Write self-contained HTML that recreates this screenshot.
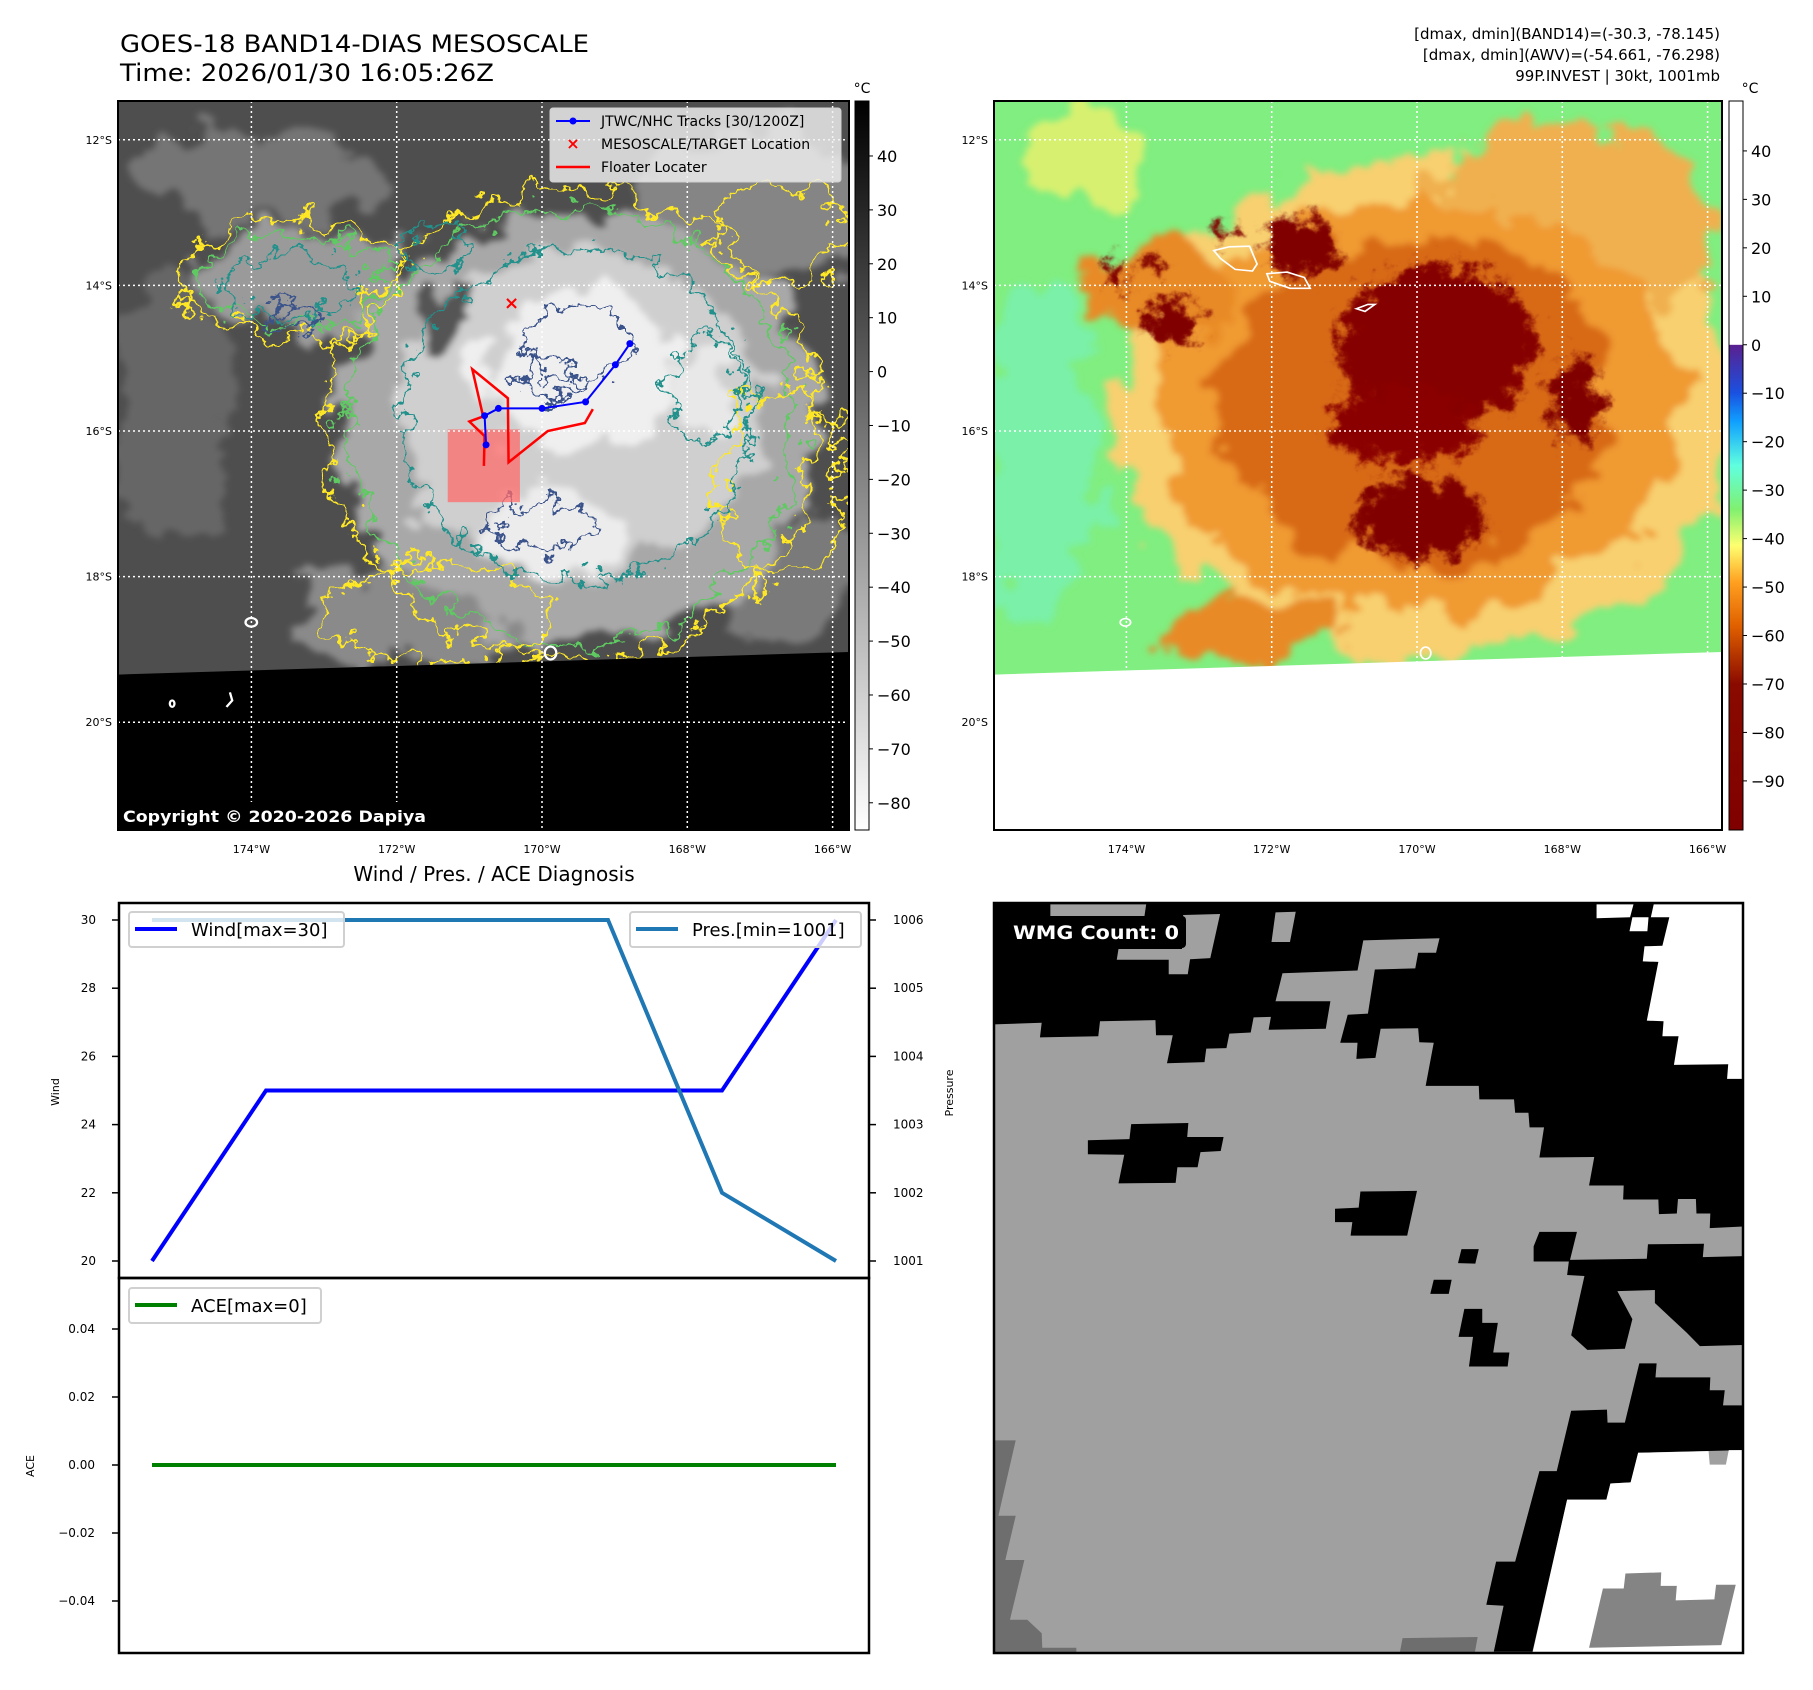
<!DOCTYPE html>
<html><head><meta charset="utf-8">
<style>
html,body{margin:0;padding:0;background:#fff;}
svg{display:block;font-family:"DejaVu Sans","Liberation Sans",sans-serif;}
</style></head>
<body>
<svg id="fig" width="1813" height="1690" viewBox="0 0 1813 1690" xmlns="http://www.w3.org/2000/svg">
<defs>
  <filter id="blur2" x="-20%" y="-20%" width="140%" height="140%"><feGaussianBlur stdDeviation="8"/></filter>
  <filter id="rough" x="-20%" y="-20%" width="140%" height="140%">
    <feTurbulence type="fractalNoise" baseFrequency="0.012" numOctaves="4" seed="7" result="n"/>
    <feDisplacementMap in="SourceGraphic" in2="n" scale="140" xChannelSelector="R" yChannelSelector="G" result="d"/>
    <feGaussianBlur in="d" stdDeviation="6"/>
  </filter>
  <filter id="jag" x="-10%" y="-10%" width="120%" height="120%">
    <feTurbulence type="fractalNoise" baseFrequency="0.02" numOctaves="4" seed="4" result="n"/>
    <feDisplacementMap in="SourceGraphic" in2="n" scale="110" xChannelSelector="R" yChannelSelector="G"/>
  </filter>
  <filter id="jag2" x="-10%" y="-10%" width="120%" height="120%">
    <feTurbulence type="fractalNoise" baseFrequency="0.03" numOctaves="4" seed="9" result="n"/>
    <feDisplacementMap in="SourceGraphic" in2="n" scale="80" xChannelSelector="R" yChannelSelector="G"/>
  </filter>
  <clipPath id="clipTL"><rect x="118" y="101" width="731" height="729"/></clipPath>
  <clipPath id="clipTR"><rect x="994" y="101" width="728" height="729"/></clipPath>
  <clipPath id="clipBR"><rect x="994" y="903" width="749" height="750"/></clipPath>
  <linearGradient id="cbGray" x1="0" y1="0" x2="0" y2="1">
    <stop offset="0" stop-color="#000"/><stop offset="1" stop-color="#fff"/>
  </linearGradient>
  <linearGradient id="cbColor" x1="0" y1="0" x2="0" y2="1">
    <stop offset="0" stop-color="#fff"/><stop offset="0.334" stop-color="#fff"/>
    <stop offset="0.335" stop-color="#5a2090"/><stop offset="0.40" stop-color="#1a50e0"/>
    <stop offset="0.44" stop-color="#10a0ff"/><stop offset="0.50" stop-color="#60ffe0"/>
    <stop offset="0.56" stop-color="#80f070"/><stop offset="0.61" stop-color="#ffff70"/>
    <stop offset="0.66" stop-color="#ffa020"/><stop offset="0.72" stop-color="#e06000"/>
    <stop offset="0.80" stop-color="#8a0a00"/><stop offset="1" stop-color="#800000"/>
  </linearGradient>
</defs>

<text x="120" y="52" font-size="24" textLength="469" lengthAdjust="spacingAndGlyphs">GOES-18 BAND14-DIAS MESOSCALE</text>
<text x="120" y="81" font-size="24" textLength="374" lengthAdjust="spacingAndGlyphs">Time: 2026/01/30 16:05:26Z</text>
<g font-size="15" text-anchor="end">
  <text x="1720" y="39">[dmax, dmin](BAND14)=(-30.3, -78.145)</text>
  <text x="1720" y="60">[dmax, dmin](AWV)=(-54.661, -76.298)</text>
  <text x="1720" y="81">99P.INVEST | 30kt, 1001mb</text>
</g>

<!-- TOP LEFT MAP -->
<g clip-path="url(#clipTL)">
  <g transform="scale(0.5777 0.5388)">
    <rect x="205" y="187" width="1265" height="1353" fill="#4e4e4e"/>
    <g filter="url(#rough)">
      <ellipse cx="450" cy="330" rx="220" ry="90" fill="#747474"/>
      <ellipse cx="300" cy="760" rx="100" ry="240" fill="#666"/>
      <ellipse cx="1300" cy="380" rx="200" ry="140" fill="#858585"/>
      <ellipse cx="1360" cy="1080" rx="150" ry="110" fill="#7a7a7a"/>
      <ellipse cx="720" cy="1140" rx="220" ry="100" fill="#8a8a8a"/>
      <ellipse cx="520" cy="520" rx="190" ry="90" fill="#9a9a9a"/>
      <ellipse cx="1000" cy="790" rx="420" ry="400" fill="#a8a8a8"/>
      <ellipse cx="1000" cy="770" rx="320" ry="300" fill="#cfcfcf"/>
      <ellipse cx="1000" cy="690" rx="170" ry="150" fill="#efefef"/>
      <ellipse cx="960" cy="980" rx="140" ry="70" fill="#ececec"/>
      <ellipse cx="1220" cy="720" rx="50" ry="90" fill="#e8e8e8"/>
      <ellipse cx="760" cy="600" rx="40" ry="60" fill="#555"/>
    </g>
    <g fill="none" stroke-width="5">
      <g filter="url(#jag)">
        <ellipse cx="990" cy="790" rx="420" ry="440" stroke="#fde725"/>
        <ellipse cx="990" cy="790" rx="390" ry="405" stroke="#5ec962"/>
        <ellipse cx="500" cy="520" rx="190" ry="110" stroke="#fde725"/>
        <ellipse cx="500" cy="520" rx="160" ry="85" stroke="#5ec962"/>
        <ellipse cx="760" cy="1140" rx="190" ry="90" stroke="#fde725"/>
        <ellipse cx="1350" cy="430" rx="120" ry="90" stroke="#fde725"/>
        <ellipse cx="1350" cy="900" rx="110" ry="180" stroke="#fde725"/>
      </g>
      <g filter="url(#jag2)">
        <ellipse cx="1000" cy="770" rx="300" ry="310" stroke="#21918c"/>
        <ellipse cx="500" cy="530" rx="110" ry="60" stroke="#21918c"/>
        <ellipse cx="1220" cy="720" rx="60" ry="100" stroke="#21918c"/>
        <ellipse cx="750" cy="460" rx="60" ry="50" stroke="#21918c"/>
        <ellipse cx="1000" cy="640" rx="90" ry="70" stroke="#3b528b"/>
        <ellipse cx="950" cy="700" rx="50" ry="40" stroke="#3b528b"/>
        <ellipse cx="940" cy="975" rx="90" ry="40" stroke="#3b528b"/>
        <ellipse cx="500" cy="590" rx="40" ry="25" stroke="#3b528b"/>
      </g>
    </g>
    <polygon points="205,1252 1470,1210 1470,1540 205,1540" fill="#000"/>
    <g fill="none" stroke="#fff" stroke-width="4">
      <ellipse cx="953" cy="1212" rx="10" ry="12"/>
      <ellipse cx="435" cy="1155" rx="10" ry="8"/>
      <ellipse cx="298" cy="1306" rx="4" ry="6"/>
      <path d="M398,1285 L402,1300 L392,1312"/>
    </g>
    <rect x="775" y="797" width="125" height="135" fill="#ff6b6b" opacity="0.75"/>
  </g>
  <g id="tlGrid" stroke="#fff" stroke-width="1.5" stroke-dasharray="2,3"></g>
  <g id="tlTrack"></g>
</g>
<rect x="118" y="101" width="731" height="729" fill="none" stroke="#000" stroke-width="2"/>
<g>
  <rect x="118" y="802" width="312" height="28" fill="#000"/>
  <text x="123" y="822" font-size="16" font-weight="bold" fill="#fff" textLength="303" lengthAdjust="spacingAndGlyphs">Copyright © 2020-2026 Dapiya</text>
</g>
<g>
  <rect x="550" y="108" width="291" height="74" fill="#f0f0f0" fill-opacity="0.82" stroke="#d0d0d0" rx="3"/>
  <line x1="556" y1="121" x2="590" y2="121" stroke="#0000ff" stroke-width="2"/>
  <circle cx="573" cy="121" r="3.5" fill="#0000ff"/>
  <text x="601" y="126" font-size="14">JTWC/NHC Tracks [30/1200Z]</text>
  <text x="573" y="149" font-size="16" font-weight="bold" fill="#ff0000" text-anchor="middle">×</text>
  <text x="601" y="149" font-size="14">MESOSCALE/TARGET Location</text>
  <line x1="556" y1="167" x2="590" y2="167" stroke="#ff0000" stroke-width="2.5"/>
  <text x="601" y="172" font-size="14">Floater Locater</text>
</g>
<g>
  <rect x="855" y="101" width="14" height="729" fill="url(#cbGray)" stroke="#000" stroke-width="1"/>
  <text x="862" y="93" font-size="14" text-anchor="middle">°C</text>
  <g id="cbTL" font-size="16"></g>
</g>
<g id="tlAxes" font-size="11"></g>

<!-- TOP RIGHT MAP -->
<g clip-path="url(#clipTR)">
  <g transform="translate(906 0) scale(0.5774 0.5388)">
    <rect x="152" y="187" width="1262" height="1353" fill="#80ee80"/>
    <g filter="url(#rough)">
      <ellipse cx="230" cy="850" rx="100" ry="320" fill="#7af0a8"/>
      <ellipse cx="300" cy="300" rx="110" ry="90" fill="#d8f070"/>
      <ellipse cx="900" cy="760" rx="540" ry="460" fill="#f8d070"/>
      <ellipse cx="1150" cy="420" rx="260" ry="200" fill="#f0b050"/>
      <ellipse cx="890" cy="760" rx="450" ry="390" fill="#f09a30"/>
      <ellipse cx="880" cy="740" rx="340" ry="310" fill="#d86a15"/>
      <ellipse cx="430" cy="540" rx="130" ry="80" fill="#e88a25"/>
      <ellipse cx="600" cy="1170" rx="150" ry="60" fill="#e88a25"/>
    </g>
    <g filter="url(#jag2)">
      <g filter="url(#blur2)">
        <ellipse cx="920" cy="640" rx="170" ry="150" fill="#850000"/>
        <ellipse cx="860" cy="790" rx="130" ry="70" fill="#8a0500"/>
        <ellipse cx="890" cy="960" rx="110" ry="75" fill="#800000"/>
        <ellipse cx="685" cy="460" rx="60" ry="55" fill="#800000"/>
        <ellipse cx="460" cy="600" rx="45" ry="40" fill="#800000"/>
        <ellipse cx="365" cy="510" rx="20" ry="20" fill="#800000"/>
        <ellipse cx="425" cy="490" rx="18" ry="15" fill="#800000"/>
        <ellipse cx="1160" cy="740" rx="40" ry="80" fill="#800000"/>
        <ellipse cx="550" cy="430" rx="20" ry="15" fill="#800000"/>
      </g>
    </g>
    <polygon points="152,1252 1414,1210 1414,1540 152,1540" fill="#fff"/>
    <g fill="none" stroke="#fff" stroke-width="3">
      <path d="M533,465 L560,458 L595,457 L608,490 L600,503 L570,500 L545,480 Z"/>
      <path d="M625,508 L660,505 L690,515 L700,535 L665,535 L630,522 Z"/>
      <path d="M780,573 L800,565 L812,565 L795,578 Z"/>
      <ellipse cx="900" cy="1212" rx="9" ry="11"/>
      <ellipse cx="380" cy="1155" rx="9" ry="7"/>
    </g>
  </g>
  <g id="trGrid" stroke="#fff" stroke-width="1.5" stroke-dasharray="2,3"></g>
</g>
<rect x="994" y="101" width="728" height="729" fill="none" stroke="#000" stroke-width="2"/>
<g>
  <rect x="1729" y="101" width="14" height="729" fill="url(#cbColor)" stroke="#000" stroke-width="1"/>
  <text x="1750" y="93" font-size="14" text-anchor="middle">°C</text>
  <g id="cbTR" font-size="16"></g>
</g>
<g id="trAxes" font-size="11"></g>

<text x="494" y="881" font-size="20" text-anchor="middle">Wind / Pres. / ACE Diagnosis</text>
<g id="chart"></g>

<!-- BOTTOM RIGHT WMG -->
<g clip-path="url(#clipBR)">
  <g transform="translate(906 845) scale(0.5774 0.5388)">
    <rect x="152" y="107" width="1298" height="1393" fill="#a0a0a0"/>
    <polygon fill="#000" points="152,107 1450,107 1450,708 1392,711 1393,684 1369,684 1368,657 1337,657 1335,684 1304,685 1303,658 1242,658 1243,632 1183,632 1192,579 1097,580 1105,524 1080,524 1078,497 1055,497 1053,472 993,472 992,447 900,447 914,367 889,366 887,340 822,341 813,395 780,397 782,367 752,367 765,315 800,313 812,231 882,229 887,200 918,200 924,173 792,177 782,233 652,238 640,290 735,290 727,341 628,343 632,319 602,320 597,348 560,350 555,377 520,378 517,403 452,405 462,353 433,353 432,325 336,327 333,355 232,357 235,330 152,333"/>
    <g fill="#a0a0a0">
      <polygon points="250,110 416,110 413,132 250,132"/>
      <polygon points="365,213 455,213 455,240 488,240 492,212 527,210 544,128 480,130 478,193 368,193"/>
      <polygon points="640,125 675,124 665,180 633,180"/>
    </g>
    <g fill="#fff">
      <polygon points="1196,110 1260,110 1254,134 1196,136"/>
      <polygon points="1258,134 1286,134 1284,160 1253,160"/>
      <polygon points="1295,110 1450,110 1450,434 1422,434 1424,407 1330,408 1338,355 1310,355 1312,327 1283,326 1303,217 1276,216 1279,188 1310,187 1322,134 1290,134"/>
    </g>
    <g fill="#000">
      <polygon points="1087,745 1097,718 1162,718 1150,770 1283,768 1285,741 1382,740 1380,765 1450,763 1450,928 1375,930 1352,905 1325,878 1297,850 1297,826 1232,828 1258,880 1245,935 1180,937 1152,910 1175,800 1145,798 1148,773 1087,773"/>
      <polygon points="1270,962 1300,962 1298,988 1393,988 1392,1012 1418,1012 1415,1040 1450,1040 1450,1123 1268,1128 1255,1183 1220,1185 1213,1215 1145,1215 1085,1497 1018,1497 1035,1412 1005,1410 1022,1330 1055,1330 1097,1162 1127,1162 1152,1050 1214,1048 1215,1072 1245,1072"/>
      <polygon points="315,548 387,546 390,518 489,516 487,542 550,542 545,568 510,570 505,598 470,598 467,627 368,628 378,575 315,574"/>
      <polygon points="743,675 784,673 787,643 885,642 868,725 770,725 773,700 743,700"/>
      <polygon points="956,776 962,750 992,750 986,777"/>
      <polygon points="908,833 914,807 945,807 940,833"/>
      <polygon points="957,913 967,861 998,861 998,887 1025,887 1017,942 1045,942 1042,968 975,968 982,913"/>
    </g>
    <polygon fill="#fff" points="1085,1500 1145,1215 1213,1215 1220,1185 1255,1183 1268,1128 1390,1125 1392,1150 1420,1150 1425,1123 1450,1123 1450,1500"/>
    <polygon fill="#848484" points="1183,1490 1207,1380 1243,1380 1246,1352 1308,1350 1307,1375 1335,1375 1333,1402 1400,1400 1403,1373 1437,1373 1412,1485"/>
    <g fill="#6e6e6e">
      <polygon points="152,1105 190,1105 160,1245 190,1245 172,1327 205,1327 180,1438 210,1438 235,1463 236,1490 295,1490 295,1500 152,1500"/>
      <polygon points="855,1500 860,1472 990,1470 985,1500"/>
    </g>
  </g>
</g>
<rect x="994" y="903" width="749" height="750" fill="none" stroke="#000" stroke-width="2.5"/>
<g>
  <rect x="995" y="916" width="191" height="32" rx="4" fill="#000"/>
  <text x="1013" y="939" font-size="19" font-weight="bold" fill="#fff" textLength="166" lengthAdjust="spacingAndGlyphs">WMG Count: 0</text>
</g>

<script>
const trackLon = [-168.79, -168.99, -169.40, -170.00, -170.60, -170.79, -170.77];
const trackLat = [-14.80, -15.09, -15.60, -15.69, -15.69, -15.79, -16.19];
const floaterLon = [-170.80, -170.79, -171.00, -170.81, -170.96, -170.47, -170.46, -169.92, -169.41, -169.30];
const floaterLat = [-16.48, -16.07, -15.87, -15.80, -15.15, -15.55, -16.43, -16.00, -15.89, -15.70];
const targetLon = [-170.42];
const targetLat = [-14.24];
const lonTicks = [-174, -172, -170, -168, -166];
const latTicks = [-12, -14, -16, -18, -20];
const lonTickLabels = ['174°W', '172°W', '170°W', '168°W', '166°W'];
const latTickLabels = ['12°S', '14°S', '16°S', '18°S', '20°S'];
const irCbTicks = [40, 30, 20, 10, 0, -10, -20, -30, -40, -50, -60, -70, -80];
const awvCbTicks = [40, 30, 20, 10, 0, -10, -20, -30, -40, -50, -60, -70, -80, -90];

const steps = [0, 1, 2, 3, 4, 5, 6];
const windVals = [20, 25, 25, 25, 25, 25, 30];
const presVals = [1006, 1006, 1006, 1006, 1006, 1002, 1001];
const aceVals = [0, 0, 0, 0, 0, 0, 0];
const windTicks = [20, 22, 24, 26, 28, 30];
const presTicks = [1001, 1002, 1003, 1004, 1005, 1006];
const aceTicks = [-0.04, -0.02, 0.00, 0.02, 0.04];
const aceTickLabels = ['\u22120.04', '\u22120.02', '0.00', '0.02', '0.04'];

const NS = 'http://www.w3.org/2000/svg';
function mk(tag, attrs, parent) {
  const e = document.createElementNS(NS, tag);
  for (const k in attrs) e.setAttribute(k, attrs[k]);
  parent.appendChild(e);
  return e;
}
const fmtNeg = v => (v < 0 ? '\u2212' + Math.abs(v) : String(v));

const lonX = (lon, off) => off + 542 + (lon + 170) * 72.65;
const latY = lat => 431 - (lat + 16) * 72.8;

function drawMapAxes(gridId, axesId, off, left, right, labelX) {
  const grid = document.getElementById(gridId);
  const axes = document.getElementById(axesId);
  lonTicks.forEach((lon, i) => {
    const x = lonX(lon, off);
    const l = mk('line', {x1: x, y1: 101, x2: x, y2: 830}, grid);
    
    
    const t = mk('text', {x: x, y: 853, 'text-anchor': 'middle'}, axes);
    t.textContent = lonTickLabels[i];
    
    
  });
  latTicks.forEach((lat, i) => {
    const y = latY(lat);
    const l = mk('line', {x1: left, y1: y, x2: right, y2: y}, grid);
    
    
    const t = mk('text', {x: labelX, y: y + 4, 'text-anchor': 'end'}, axes);
    t.textContent = latTickLabels[i];
    
    
  });
}
drawMapAxes('tlGrid', 'tlAxes', 0, 118, 849, 112);
drawMapAxes('trGrid', 'trAxes', 875, 994, 1722, 988);

function drawCb(id, ticks, x0, yTop, pxPer, topVal) {
  const g = document.getElementById(id);
  ticks.forEach(v => {
    const y = yTop + (topVal - v) * pxPer;
    const l = mk('line', {x1: x0 + 14, y1: y, x2: x0 + 18, y2: y, stroke: '#000'}, g);
    
    
    const t = mk('text', {x: x0 + 22, y: y + 6}, g);
    t.textContent = fmtNeg(v);
    
    
  });
}
drawCb('cbTL', irCbTicks, 855, 101, 5.39, 50.2);
drawCb('cbTR', awvCbTicks, 1729, 101, 4.846, 50.3);

const tg = document.getElementById('tlTrack');
const fl = mk('polyline', {points: floaterLon.map((lo, i) => lonX(lo, 0) + ',' + latY(floaterLat[i])).join(' '), fill: 'none', stroke: '#ff0000', 'stroke-width': 2.5}, tg);


const tl = mk('polyline', {points: trackLon.map((lo, i) => lonX(lo, 0) + ',' + latY(trackLat[i])).join(' '), fill: 'none', stroke: '#0000ff', 'stroke-width': 2}, tg);


trackLon.forEach((lo, i) => {
  const c = mk('circle', {cx: lonX(lo, 0), cy: latY(trackLat[i]), r: 3.5, fill: '#0000ff'}, tg);
  
  
});
targetLon.forEach((lo, i) => {
  const t = mk('text', {x: lonX(lo, 0), y: latY(targetLat[i]) + 6, 'font-size': 18, 'font-weight': 'bold', fill: '#ff0000', 'text-anchor': 'middle'}, tg);
  t.textContent = '×';
  
  
});

const ch = document.getElementById('chart');
const xS = i => 152 + i * 114;
const yWind = v => 1261 - (v - 20) * 34.1;
const yPres = v => 1261 - (v - 1001) * 68.2;
const yAce = v => 1465 - v * 3400;

const frame1 = mk('rect', {x: 119, y: 903, width: 750, height: 375, fill: 'none', stroke: '#000', 'stroke-width': 2.5}, ch);


const frame2 = mk('rect', {x: 119, y: 1278, width: 750, height: 375, fill: 'none', stroke: '#000', 'stroke-width': 2.5}, ch);



windTicks.forEach(v => {
  const y = yWind(v);
  const l = mk('line', {x1: 112, y1: y, x2: 119, y2: y, stroke: '#000', 'stroke-width': 1.5}, ch);
  
  
  const t = mk('text', {x: 96, y: y + 4, 'font-size': 12, 'text-anchor': 'end'}, ch);
  t.textContent = String(v);
  
  
});
presTicks.forEach(v => {
  const y = yPres(v);
  const l = mk('line', {x1: 869, y1: y, x2: 876, y2: y, stroke: '#000', 'stroke-width': 1.5}, ch);
  
  
  const t = mk('text', {x: 893, y: y + 4, 'font-size': 12}, ch);
  t.textContent = String(v);
  
  
});
aceTicks.forEach((v, i) => {
  const y = yAce(v);
  const l = mk('line', {x1: 112, y1: y, x2: 119, y2: y, stroke: '#000', 'stroke-width': 1.5}, ch);
  
  
  const t = mk('text', {x: 95, y: y + 4, 'font-size': 12, 'text-anchor': 'end'}, ch);
  t.textContent = aceTickLabels[i];
  
  
});

const wl = mk('polyline', {points: steps.map(i => xS(i) + ',' + yWind(windVals[i])).join(' '), fill: 'none', stroke: '#0000ff', 'stroke-width': 4}, ch);


const pl = mk('polyline', {points: steps.map(i => xS(i) + ',' + yPres(presVals[i])).join(' '), fill: 'none', stroke: '#1f77b4', 'stroke-width': 4}, ch);


const al = mk('polyline', {points: steps.map(i => xS(i) + ',' + yAce(aceVals[i])).join(' '), fill: 'none', stroke: '#008000', 'stroke-width': 4}, ch);



function legend(name, x, y, w, color, label) {
  const g = mk('g', {}, ch);
  
  
  mk('rect', {x: x, y: y, width: w, height: 35, rx: 3, fill: '#fff', 'fill-opacity': 0.8, stroke: '#d0d0d0', 'stroke-width': 2}, g);
  mk('line', {x1: x + 6, y1: y + 17, x2: x + 48, y2: y + 17, stroke: color, 'stroke-width': 4}, g);
  const t = mk('text', {x: x + 62, y: y + 24, 'font-size': 18}, g);
  t.textContent = label;
}
legend('wind-legend', 129, 912, 215, '#0000ff', 'Wind[max=' + Math.max(...windVals) + ']');
legend('pressure-legend', 630, 912, 231, '#1f77b4', 'Pres.[min=' + Math.min(...presVals) + ']');
legend('ace-legend', 129, 1288, 192, '#008000', 'ACE[max=' + Math.max(...aceVals) + ']');

const wlab = mk('text', {x: 0, y: 0, 'font-size': 11, 'text-anchor': 'middle', transform: 'translate(59 1092) rotate(-90)'}, ch);
wlab.textContent = 'Wind';


const plab = mk('text', {x: 0, y: 0, 'font-size': 11, 'text-anchor': 'middle', transform: 'translate(953 1093) rotate(-90)'}, ch);
plab.textContent = 'Pressure';


const alab = mk('text', {x: 0, y: 0, 'font-size': 11, 'text-anchor': 'middle', transform: 'translate(34 1466) rotate(-90)'}, ch);
alab.textContent = 'ACE';


</script>
</svg>
</body></html>
